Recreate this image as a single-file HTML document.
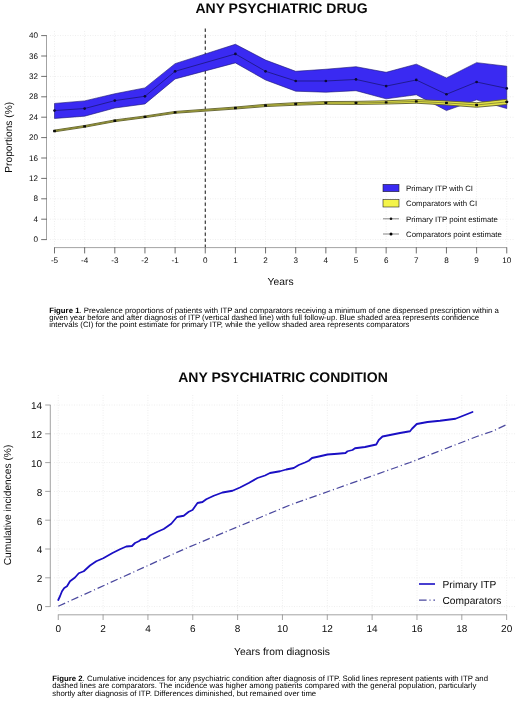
<!DOCTYPE html>
<html lang="en"><head><meta charset="utf-8"><title>Figures</title>
<style>
html,body{margin:0;padding:0;background:#fff;}
svg{display:block;}
text{font-family:'Liberation Sans', sans-serif;fill:#0a0a0a;text-rendering:geometricPrecision;}
.ax{stroke:#8c8c8c;stroke-width:0.8;fill:none;}
.tick{stroke:#4a4a4a;stroke-width:0.8;fill:none;}
.grid{stroke:#eeeeee;stroke-width:1;stroke-dasharray:1 1.5;fill:none;}
.tk{font-size:8.1px;}
.cap{font-size:7.78px;fill:#000;}
</style></head><body>
<svg width="520" height="704" viewBox="0 0 520 704">
<rect width="520" height="704" fill="#fff"/>

<text x="281.5" y="12.6" text-anchor="middle" font-size="14" font-weight="bold" fill="#000">ANY PSYCHIATRIC DRUG</text>
<line class="grid" x1="50" x2="515" y1="239.60" y2="239.60"/>
<line class="grid" x1="50" x2="515" y1="219.20" y2="219.20"/>
<line class="grid" x1="50" x2="515" y1="198.80" y2="198.80"/>
<line class="grid" x1="50" x2="515" y1="178.40" y2="178.40"/>
<line class="grid" x1="50" x2="515" y1="158.00" y2="158.00"/>
<line class="grid" x1="50" x2="515" y1="137.60" y2="137.60"/>
<line class="grid" x1="50" x2="515" y1="117.20" y2="117.20"/>
<line class="grid" x1="50" x2="515" y1="96.80" y2="96.80"/>
<line class="grid" x1="50" x2="515" y1="76.40" y2="76.40"/>
<line class="grid" x1="50" x2="515" y1="56.00" y2="56.00"/>
<line class="grid" x1="50" x2="515" y1="35.60" y2="35.60"/>
<line class="grid" y1="31" y2="245" x1="54.50" x2="54.50"/>
<line class="grid" y1="31" y2="245" x1="84.65" x2="84.65"/>
<line class="grid" y1="31" y2="245" x1="114.80" x2="114.80"/>
<line class="grid" y1="31" y2="245" x1="144.95" x2="144.95"/>
<line class="grid" y1="31" y2="245" x1="175.10" x2="175.10"/>
<line class="grid" y1="31" y2="245" x1="205.25" x2="205.25"/>
<line class="grid" y1="31" y2="245" x1="235.40" x2="235.40"/>
<line class="grid" y1="31" y2="245" x1="265.55" x2="265.55"/>
<line class="grid" y1="31" y2="245" x1="295.70" x2="295.70"/>
<line class="grid" y1="31" y2="245" x1="325.85" x2="325.85"/>
<line class="grid" y1="31" y2="245" x1="356.00" x2="356.00"/>
<line class="grid" y1="31" y2="245" x1="386.15" x2="386.15"/>
<line class="grid" y1="31" y2="245" x1="416.30" x2="416.30"/>
<line class="grid" y1="31" y2="245" x1="446.45" x2="446.45"/>
<line class="grid" y1="31" y2="245" x1="476.60" x2="476.60"/>
<line class="grid" y1="31" y2="245" x1="506.75" x2="506.75"/>
<line x1="205.25" x2="205.25" y1="28.5" y2="247" stroke="#111" stroke-width="1" stroke-dasharray="3.4 2.6"/>
<polygon points="54.50,103.43 84.65,100.88 114.80,93.74 144.95,87.88 175.10,63.65 235.40,44.27 265.55,60.08 295.70,71.30 325.85,69.26 356.00,66.71 386.15,72.32 416.30,64.16 446.45,77.93 476.60,62.63 506.75,66.20 506.75,108.53 476.60,99.86 446.45,110.57 416.30,94.76 386.15,98.84 356.00,90.68 325.85,92.21 295.70,91.19 265.55,79.97 235.40,62.89 175.10,78.95 144.95,103.94 114.80,108.02 84.65,116.18 54.50,118.48" fill="#3a2af2" stroke="#1a1470" stroke-width="0.6" stroke-linejoin="round"/>
<polygon points="54.50,130.10 84.65,125.51 114.80,119.90 144.95,115.98 175.10,111.44 235.40,107.00 265.55,104.35 295.70,102.66 325.85,101.54 356.00,101.39 386.15,100.78 416.30,99.55 446.45,100.88 476.60,102.67 506.75,99.25 506.75,104.55 476.60,107.25 446.45,104.96 416.30,103.23 386.15,104.04 356.00,104.45 325.85,104.30 295.70,105.22 265.55,106.59 235.40,109.04 175.10,113.27 144.95,117.71 114.80,121.64 84.65,127.25 54.50,131.84" fill="#e2e244" stroke="#5e5e30" stroke-width="0.9" stroke-linejoin="round"/>
<polyline points="54.50,110.57 84.65,108.53 114.80,100.62 144.95,96.29 175.10,71.30 235.40,53.96 265.55,71.30 295.70,80.99 325.85,80.99 356.00,79.46 386.15,86.09 416.30,79.97 446.45,94.25 476.60,82.01 506.75,88.39" fill="none" stroke="#16126a" stroke-width="0.7"/>
<polyline points="54.50,130.97 84.65,126.38 114.80,120.77 144.95,116.84 175.10,112.36 235.40,108.02 265.55,105.47 295.70,103.94 325.85,102.92 356.00,102.92 386.15,102.41 416.30,101.39 446.45,102.92 476.60,104.96 506.75,101.90" fill="none" stroke="#5a5a2c" stroke-width="0.6"/>
<circle cx="54.50" cy="110.57" r="1.35" fill="#0c0a38"/>
<rect x="53.10" y="129.77" width="2.8" height="2.4" rx="0.5" fill="#080808"/>
<circle cx="84.65" cy="108.53" r="1.35" fill="#0c0a38"/>
<rect x="83.25" y="125.18" width="2.8" height="2.4" rx="0.5" fill="#080808"/>
<circle cx="114.80" cy="100.62" r="1.35" fill="#0c0a38"/>
<rect x="113.40" y="119.57" width="2.8" height="2.4" rx="0.5" fill="#080808"/>
<circle cx="144.95" cy="96.29" r="1.35" fill="#0c0a38"/>
<rect x="143.55" y="115.64" width="2.8" height="2.4" rx="0.5" fill="#080808"/>
<circle cx="175.10" cy="71.30" r="1.35" fill="#0c0a38"/>
<rect x="173.70" y="111.16" width="2.8" height="2.4" rx="0.5" fill="#080808"/>
<circle cx="235.40" cy="53.96" r="1.35" fill="#0c0a38"/>
<rect x="234.00" y="106.82" width="2.8" height="2.4" rx="0.5" fill="#080808"/>
<circle cx="265.55" cy="71.30" r="1.35" fill="#0c0a38"/>
<rect x="264.15" y="104.27" width="2.8" height="2.4" rx="0.5" fill="#080808"/>
<circle cx="295.70" cy="80.99" r="1.35" fill="#0c0a38"/>
<rect x="294.30" y="102.74" width="2.8" height="2.4" rx="0.5" fill="#080808"/>
<circle cx="325.85" cy="80.99" r="1.35" fill="#0c0a38"/>
<rect x="324.45" y="101.72" width="2.8" height="2.4" rx="0.5" fill="#080808"/>
<circle cx="356.00" cy="79.46" r="1.35" fill="#0c0a38"/>
<rect x="354.60" y="101.72" width="2.8" height="2.4" rx="0.5" fill="#080808"/>
<circle cx="386.15" cy="86.09" r="1.35" fill="#0c0a38"/>
<rect x="384.75" y="101.21" width="2.8" height="2.4" rx="0.5" fill="#080808"/>
<circle cx="416.30" cy="79.97" r="1.35" fill="#0c0a38"/>
<rect x="414.90" y="100.19" width="2.8" height="2.4" rx="0.5" fill="#080808"/>
<circle cx="446.45" cy="94.25" r="1.35" fill="#0c0a38"/>
<rect x="445.05" y="101.72" width="2.8" height="2.4" rx="0.5" fill="#080808"/>
<circle cx="476.60" cy="82.01" r="1.35" fill="#0c0a38"/>
<rect x="475.20" y="103.76" width="2.8" height="2.4" rx="0.5" fill="#080808"/>
<circle cx="506.75" cy="88.39" r="1.35" fill="#0c0a38"/>
<rect x="505.35" y="100.70" width="2.8" height="2.4" rx="0.5" fill="#080808"/>
<path class="ax" d="M46.5 35.60V239.60"/>
<line class="tick" x1="41.2" x2="46.8" y1="239.60" y2="239.60"/>
<text class="tk" x="38" y="242.20" text-anchor="end">0</text>
<line class="tick" x1="41.2" x2="46.8" y1="219.20" y2="219.20"/>
<text class="tk" x="38" y="221.80" text-anchor="end">4</text>
<line class="tick" x1="41.2" x2="46.8" y1="198.80" y2="198.80"/>
<text class="tk" x="38" y="201.40" text-anchor="end">8</text>
<line class="tick" x1="41.2" x2="46.8" y1="178.40" y2="178.40"/>
<text class="tk" x="38" y="181.00" text-anchor="end">12</text>
<line class="tick" x1="41.2" x2="46.8" y1="158.00" y2="158.00"/>
<text class="tk" x="38" y="160.60" text-anchor="end">16</text>
<line class="tick" x1="41.2" x2="46.8" y1="137.60" y2="137.60"/>
<text class="tk" x="38" y="140.20" text-anchor="end">20</text>
<line class="tick" x1="41.2" x2="46.8" y1="117.20" y2="117.20"/>
<text class="tk" x="38" y="119.80" text-anchor="end">24</text>
<line class="tick" x1="41.2" x2="46.8" y1="96.80" y2="96.80"/>
<text class="tk" x="38" y="99.40" text-anchor="end">28</text>
<line class="tick" x1="41.2" x2="46.8" y1="76.40" y2="76.40"/>
<text class="tk" x="38" y="79.00" text-anchor="end">32</text>
<line class="tick" x1="41.2" x2="46.8" y1="56.00" y2="56.00"/>
<text class="tk" x="38" y="58.60" text-anchor="end">36</text>
<line class="tick" x1="41.2" x2="46.8" y1="35.60" y2="35.60"/>
<text class="tk" x="38" y="38.20" text-anchor="end">40</text>
<path class="ax" d="M54.50 247.6H506.75"/>
<line class="tick" y1="247.3" y2="253.4" x1="54.50" x2="54.50"/>
<text class="tk" x="54.50" y="263" text-anchor="middle">-5</text>
<line class="tick" y1="247.3" y2="253.4" x1="84.65" x2="84.65"/>
<text class="tk" x="84.65" y="263" text-anchor="middle">-4</text>
<line class="tick" y1="247.3" y2="253.4" x1="114.80" x2="114.80"/>
<text class="tk" x="114.80" y="263" text-anchor="middle">-3</text>
<line class="tick" y1="247.3" y2="253.4" x1="144.95" x2="144.95"/>
<text class="tk" x="144.95" y="263" text-anchor="middle">-2</text>
<line class="tick" y1="247.3" y2="253.4" x1="175.10" x2="175.10"/>
<text class="tk" x="175.10" y="263" text-anchor="middle">-1</text>
<line class="tick" y1="247.3" y2="253.4" x1="205.25" x2="205.25"/>
<text class="tk" x="205.25" y="263" text-anchor="middle">0</text>
<line class="tick" y1="247.3" y2="253.4" x1="235.40" x2="235.40"/>
<text class="tk" x="235.40" y="263" text-anchor="middle">1</text>
<line class="tick" y1="247.3" y2="253.4" x1="265.55" x2="265.55"/>
<text class="tk" x="265.55" y="263" text-anchor="middle">2</text>
<line class="tick" y1="247.3" y2="253.4" x1="295.70" x2="295.70"/>
<text class="tk" x="295.70" y="263" text-anchor="middle">3</text>
<line class="tick" y1="247.3" y2="253.4" x1="325.85" x2="325.85"/>
<text class="tk" x="325.85" y="263" text-anchor="middle">4</text>
<line class="tick" y1="247.3" y2="253.4" x1="356.00" x2="356.00"/>
<text class="tk" x="356.00" y="263" text-anchor="middle">5</text>
<line class="tick" y1="247.3" y2="253.4" x1="386.15" x2="386.15"/>
<text class="tk" x="386.15" y="263" text-anchor="middle">6</text>
<line class="tick" y1="247.3" y2="253.4" x1="416.30" x2="416.30"/>
<text class="tk" x="416.30" y="263" text-anchor="middle">7</text>
<line class="tick" y1="247.3" y2="253.4" x1="446.45" x2="446.45"/>
<text class="tk" x="446.45" y="263" text-anchor="middle">8</text>
<line class="tick" y1="247.3" y2="253.4" x1="476.60" x2="476.60"/>
<text class="tk" x="476.60" y="263" text-anchor="middle">9</text>
<line class="tick" y1="247.3" y2="253.4" x1="506.75" x2="506.75"/>
<text class="tk" x="506.75" y="263" text-anchor="middle">10</text>
<text transform="translate(11.5,137.3) rotate(-90)" text-anchor="middle" font-size="10.2">Proportions (%)</text>
<text x="280.6" y="285" text-anchor="middle" font-size="10.3">Years</text>
<rect x="383" y="184.3" width="16" height="7.4" fill="#3a2af2" stroke="#222" stroke-width="0.6"/>
<rect x="383" y="199.6" width="16" height="7.4" fill="#f4f44a" stroke="#222" stroke-width="0.6"/>
<line x1="383" x2="399" y1="218.8" y2="218.8" stroke="#333" stroke-width="0.6"/><circle cx="391" cy="218.8" r="1.3" fill="#111"/>
<line x1="383" x2="399" y1="234" y2="234" stroke="#333" stroke-width="0.6"/><circle cx="391" cy="234" r="1.5" fill="#000"/>
<text x="406" y="191" font-size="7.8">Primary ITP with CI</text>
<text x="406" y="206.3" font-size="7.8">Comparators with CI</text>
<text x="406" y="221.6" font-size="7.8">Primary ITP point estimate</text>
<text x="406" y="236.9" font-size="7.8">Comparators point estimate</text>
<text class="cap" x="49.2" y="312.6" textLength="449.7" lengthAdjust="spacing"><tspan font-weight="bold">Figure 1</tspan>. Prevalence proportions of patients with ITP and comparators receiving a minimum of one dispensed prescription within a</text>
<text class="cap" x="49.2" y="320" textLength="430" lengthAdjust="spacing">given year before and after diagnosis of ITP (vertical dashed line) with full follow-up. Blue shaded area represents confidence</text>
<text class="cap" x="49.2" y="327.4" textLength="360.3" lengthAdjust="spacing">intervals (CI) for the point estimate for primary ITP, while the yellow shaded area represents comparators</text>
<text x="283" y="381.5" text-anchor="middle" font-size="14" font-weight="bold" fill="#000">ANY PSYCHIATRIC CONDITION</text>
<line class="grid" x1="54" x2="515" y1="606.60" y2="606.60"/>
<line class="grid" x1="54" x2="515" y1="577.80" y2="577.80"/>
<line class="grid" x1="54" x2="515" y1="549.00" y2="549.00"/>
<line class="grid" x1="54" x2="515" y1="520.20" y2="520.20"/>
<line class="grid" x1="54" x2="515" y1="491.40" y2="491.40"/>
<line class="grid" x1="54" x2="515" y1="462.60" y2="462.60"/>
<line class="grid" x1="54" x2="515" y1="433.80" y2="433.80"/>
<line class="grid" x1="54" x2="515" y1="405.00" y2="405.00"/>
<line class="grid" y1="395" y2="611" x1="58.25" x2="58.25"/>
<line class="grid" y1="395" y2="611" x1="103.09" x2="103.09"/>
<line class="grid" y1="395" y2="611" x1="147.93" x2="147.93"/>
<line class="grid" y1="395" y2="611" x1="192.77" x2="192.77"/>
<line class="grid" y1="395" y2="611" x1="237.61" x2="237.61"/>
<line class="grid" y1="395" y2="611" x1="282.45" x2="282.45"/>
<line class="grid" y1="395" y2="611" x1="327.29" x2="327.29"/>
<line class="grid" y1="395" y2="611" x1="372.13" x2="372.13"/>
<line class="grid" y1="395" y2="611" x1="416.97" x2="416.97"/>
<line class="grid" y1="395" y2="611" x1="461.81" x2="461.81"/>
<line class="grid" y1="395" y2="611" x1="506.65" x2="506.65"/>
<polyline fill="none" stroke="#1a0fc4" stroke-width="1.8" stroke-linejoin="round" stroke-linecap="round" points="58.25,600 60,596.25 62,591.25 64.25,588 67,586.25 70,581.25 75,577.5 78.75,573.25 83.75,571.25 90,565.5 96.25,561.25 103.25,558.25 112.5,553 120,549.25 126.25,546.5 132,546 135,543 138.75,541.25 141.25,539.5 146.25,538.75 150,535.5 157.5,531.75 163.75,529 171.25,523.75 177,517 183.75,515.75 188.75,511.75 192.5,510 197.5,503 202.5,502 206.25,499.25 213.75,495.75 222.5,492.5 232.5,490.75 240,487.5 248.75,483 257.5,478 265,475.5 270,473 280,471.25 286.25,469.5 293.75,468 298.75,465 305,462.5 308.75,460.75 312,458 320,456.25 327.5,454.5 337.5,453.75 345.5,453 347.5,451.25 352.5,450 355,448.25 365,447 376.25,444.5 378.75,440 382.5,436.5 392.5,434.5 400,433 410,431.25 412,428.75 416.75,424 427.5,422 440,420.75 455.5,418.75 472.5,412"/>
<polyline fill="none" stroke="#4a489e" stroke-width="1.25" stroke-dasharray="7.6 2.85 1.1 2.85" points="58.25,606.25 170,555.5 185,548.75 290,505 410,462.5 477.5,436.25 492.5,431.25 506.75,424.5"/>
<path class="ax" d="M50.3 405.00V606.60"/>
<line class="ax" x1="45.2" x2="50.6" y1="606.60" y2="606.60"/>
<text x="42.2" y="610.90" text-anchor="end" font-size="10">0</text>
<line class="ax" x1="45.2" x2="50.6" y1="577.80" y2="577.80"/>
<text x="42.2" y="582.10" text-anchor="end" font-size="10">2</text>
<line class="ax" x1="45.2" x2="50.6" y1="549.00" y2="549.00"/>
<text x="42.2" y="553.30" text-anchor="end" font-size="10">4</text>
<line class="ax" x1="45.2" x2="50.6" y1="520.20" y2="520.20"/>
<text x="42.2" y="524.50" text-anchor="end" font-size="10">6</text>
<line class="ax" x1="45.2" x2="50.6" y1="491.40" y2="491.40"/>
<text x="42.2" y="495.70" text-anchor="end" font-size="10">8</text>
<line class="ax" x1="45.2" x2="50.6" y1="462.60" y2="462.60"/>
<text x="42.2" y="466.90" text-anchor="end" font-size="10">10</text>
<line class="ax" x1="45.2" x2="50.6" y1="433.80" y2="433.80"/>
<text x="42.2" y="438.10" text-anchor="end" font-size="10">12</text>
<line class="ax" x1="45.2" x2="50.6" y1="405.00" y2="405.00"/>
<text x="42.2" y="409.30" text-anchor="end" font-size="10">14</text>
<path class="ax" d="M58.25 614.8H506.65"/>
<line class="ax" y1="614.5" y2="620" x1="58.25" x2="58.25"/>
<text x="58.25" y="631.6" text-anchor="middle" font-size="10">0</text>
<line class="ax" y1="614.5" y2="620" x1="103.09" x2="103.09"/>
<text x="103.09" y="631.6" text-anchor="middle" font-size="10">2</text>
<line class="ax" y1="614.5" y2="620" x1="147.93" x2="147.93"/>
<text x="147.93" y="631.6" text-anchor="middle" font-size="10">4</text>
<line class="ax" y1="614.5" y2="620" x1="192.77" x2="192.77"/>
<text x="192.77" y="631.6" text-anchor="middle" font-size="10">6</text>
<line class="ax" y1="614.5" y2="620" x1="237.61" x2="237.61"/>
<text x="237.61" y="631.6" text-anchor="middle" font-size="10">8</text>
<line class="ax" y1="614.5" y2="620" x1="282.45" x2="282.45"/>
<text x="282.45" y="631.6" text-anchor="middle" font-size="10">10</text>
<line class="ax" y1="614.5" y2="620" x1="327.29" x2="327.29"/>
<text x="327.29" y="631.6" text-anchor="middle" font-size="10">12</text>
<line class="ax" y1="614.5" y2="620" x1="372.13" x2="372.13"/>
<text x="372.13" y="631.6" text-anchor="middle" font-size="10">14</text>
<line class="ax" y1="614.5" y2="620" x1="416.97" x2="416.97"/>
<text x="416.97" y="631.6" text-anchor="middle" font-size="10">16</text>
<line class="ax" y1="614.5" y2="620" x1="461.81" x2="461.81"/>
<text x="461.81" y="631.6" text-anchor="middle" font-size="10">18</text>
<line class="ax" y1="614.5" y2="620" x1="506.65" x2="506.65"/>
<text x="506.65" y="631.6" text-anchor="middle" font-size="10">20</text>
<text transform="translate(11.2,505) rotate(-90)" text-anchor="middle" font-size="10.2">Cumulative incidences (%)</text>
<text x="282" y="654.5" text-anchor="middle" font-size="10.3">Years from diagnosis</text>
<line x1="419" x2="435" y1="584" y2="584" stroke="#1a0fc4" stroke-width="1.6"/>
<line x1="419" x2="435" y1="600" y2="600" stroke="#4a489e" stroke-width="1.25" stroke-dasharray="7.6 2.85 1.1 2.85"/>
<text x="442.5" y="587.8" font-size="10.2">Primary ITP</text>
<text x="442.5" y="603.9" font-size="10.2">Comparators</text>
<text class="cap" x="52.3" y="680.9" textLength="435.7" lengthAdjust="spacing"><tspan font-weight="bold">Figure 2</tspan>. Cumulative incidences for any psychiatric condition after diagnosis of ITP. Solid lines represent patients with ITP and</text>
<text class="cap" x="52.3" y="688.4" textLength="424" lengthAdjust="spacing">dashed lines are comparators. The incidence was higher among patients compared with the general population, particularly</text>
<text class="cap" x="52.3" y="695.9">shortly after diagnosis of ITP. Differences diminished, but remained over time</text>
</svg></body></html>
